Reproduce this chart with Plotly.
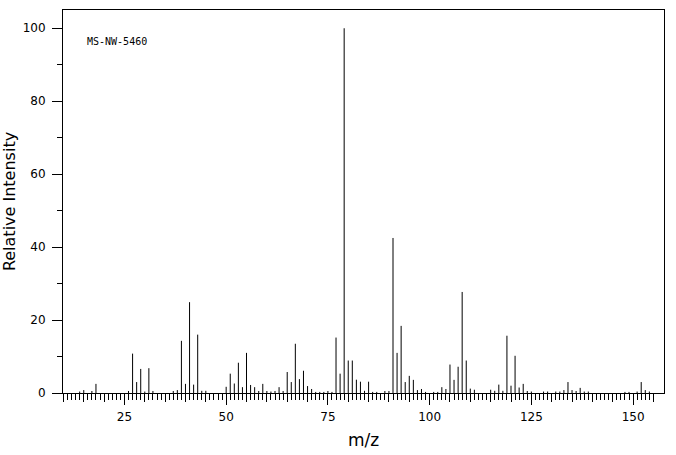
import plotly.graph_objects as go

mz = [14, 15, 17, 18, 26, 27, 28, 29, 30, 31, 32, 37, 38, 39, 40, 41, 42, 43, 44, 45,
      50, 51, 52, 53, 54, 55, 56, 57, 58, 59, 60, 61, 62, 63, 64, 65, 66, 67, 68, 69,
      70, 71, 72, 73, 74, 75, 76, 77, 78, 79, 80, 81, 82, 83, 84, 85, 86, 87, 89, 90,
      91, 92, 93, 94, 95, 96, 97, 98, 99, 101, 102, 103, 104, 105, 106, 107, 108, 109,
      110, 111, 115, 116, 117, 118, 119, 120, 121, 122, 123, 124, 125, 128, 129, 131,
      132, 133, 134, 135, 136, 137, 138, 139, 148, 149, 151, 152, 153, 154]
intensity = [0.4, 0.8, 0.55, 2.5, 0.55, 10.8, 3.0, 6.6, 0.4, 6.8, 0.55, 0.55, 0.8, 14.3, 2.5, 24.9, 2.3, 16.0, 0.6, 0.6,
             1.7, 5.3, 2.6, 8.3, 1.6, 11.0, 2.2, 1.6, 0.55, 2.5, 0.55, 0.4, 0.55, 1.6, 0.55, 5.75, 3.0, 13.5, 3.8, 6.1,
             1.9, 1.1, 0.3, 0.3, 0.3, 0.55, 0.3, 15.2, 5.3, 100, 8.9, 8.9, 3.65, 3.1, 0.6, 3.1, 0.3, 0.3, 0.55, 0.55,
             42.5, 11.0, 18.4, 3.0, 4.7, 3.6, 0.8, 1.1, 0.3, 0.3, 0.3, 1.6, 1.1, 7.8, 3.6, 7.2, 27.7, 8.9,
             1.2, 0.9, 0.9, 0.6, 2.3, 0.6, 15.7, 2.0, 10.2, 1.5, 2.5, 0.55, 0.4, 0.4, 0.4, 0.4,
             0.4, 0.8, 3.0, 0.8, 0.55, 1.4, 0.4, 0.4, 0.3, 0.3, 0.4, 3.0, 0.8, 0.4]

x_major = [25, 50, 75, 100, 125, 150]
x_mid = [v for v in range(10, 156, 5) if v % 25 != 0]
x_minor = [v for v in range(10, 156) if v % 5 != 0]
y_major = [0, 20, 40, 60, 80, 100]
y_minor = [10, 30, 50, 70, 90]
title_text = "MS-NW-5460"

xs, ys = [], []
for m, v in zip(mz, intensity):
    xs += [m, m, None]
    ys += [0, v, None]

fig = go.Figure()
fig.add_trace(go.Scatter(x=xs, y=ys, mode="lines", line=dict(color="black", width=1),
                         hoverinfo="skip", showlegend=False))
# invisible trace to activate the second x axis (medium ticks)
fig.add_trace(go.Scatter(x=[x_mid[0]], y=[0], xaxis="x2", mode="markers",
                         marker=dict(opacity=0), hoverinfo="skip", showlegend=False))

font = dict(family="DejaVu Sans", size=12, color="black")
xr = [9.9, 157.6]
fig.update_layout(
    width=676, height=455,
    margin=dict(l=63, r=12, t=10, b=62, autoexpand=False),
    plot_bgcolor="white", paper_bgcolor="white",
    font=font,
    xaxis=dict(range=xr, tickmode="array", tickvals=x_major, ticks="outside", ticklen=11,
               tickwidth=1, tickcolor="black", showgrid=False, zeroline=False,
               showline=True, linecolor="black", linewidth=1, mirror=True,
               tickfont=font, ticklabelstandoff=2, automargin=False,
               minor=dict(tickmode="array", tickvals=x_minor, ticks="outside", ticklen=6,
                          tickwidth=1, tickcolor="black", showgrid=False),
               title=dict(text="m/z", font=dict(family="DejaVu Sans", size=17), standoff=10)),
    xaxis2=dict(range=xr, overlaying="x", side="bottom", anchor="y", tickmode="array",
                tickvals=x_mid, ticktext=["" for _ in x_mid], ticks="outside", ticklen=8,
                tickwidth=1, tickcolor="black", showgrid=False, zeroline=False, showline=False,
                automargin=False),
    yaxis=dict(range=[0, 105], tickmode="array", tickvals=y_major, ticks="outside", ticklen=10,
               tickwidth=1, tickcolor="black", showgrid=False, zeroline=False,
               showline=True, linecolor="black", linewidth=1, mirror=True,
               tickfont=font, ticklabelstandoff=4, automargin=False,
               minor=dict(tickmode="array", tickvals=y_minor, ticks="outside", ticklen=5,
                          tickwidth=1, tickcolor="black", showgrid=False),
               title=dict(text="Relative Intensity", font=dict(family="DejaVu Sans", size=16), standoff=6)),
    annotations=[dict(text=title_text, xref="paper", yref="paper", x=0.036, y=0.919,
                      xanchor="left", yanchor="middle", showarrow=False,
                      font=dict(family="DejaVu Sans Mono", size=10, color="black"))],
)

fig.write_html("out.html")
